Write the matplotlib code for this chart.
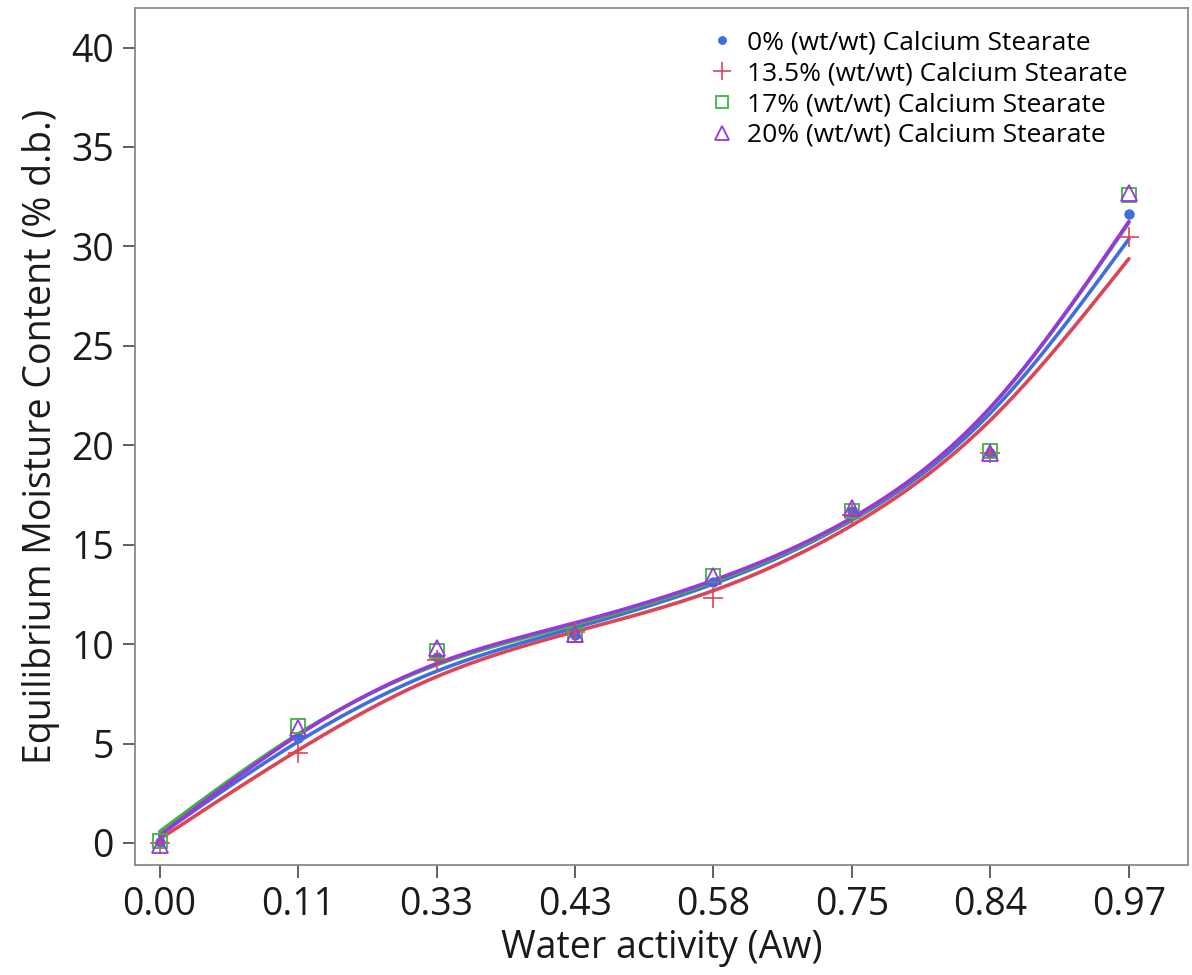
import matplotlib
matplotlib.use("Agg")
import matplotlib.pyplot as plt
from matplotlib.lines import Line2D
import numpy as np

plt.rcParams["font.family"] = ["Open Sans", "DejaVu Sans"]

# Water activity levels (plotted as equally spaced categories)
aw_labels = ["0.00", "0.11", "0.33", "0.43", "0.58", "0.75", "0.84", "0.97"]

# Equilibrium moisture content (% d.b.) per calcium stearate level
emc_0 = [0.05, 5.3, 9.35, 10.45, 13.1, 16.7, 19.6, 31.65]
emc_135 = [0.0, 4.5, 9.2, 10.6, 12.3, 16.5, 19.6, 30.45]
emc_17 = [0.1, 5.9, 9.65, 10.45, 13.4, 16.7, 19.7, 32.6]
emc_20 = [-0.1, 5.8, 9.8, 10.5, 13.45, 16.85, 19.6, 32.7]

series_labels = [
    "0% (wt/wt) Calcium Stearate",
    "13.5% (wt/wt) Calcium Stearate",
    "17% (wt/wt) Calcium Stearate",
    "20% (wt/wt) Calcium Stearate",
]

blue = "#3E6FDD"
red = "#DC4654"
green = "#3DB53D"
purple = "#9A35E0"

styles = [
    dict(marker="o", color=blue, ms=7.5, mfc=blue, mew=0),
    dict(marker="+", color=red, ms=15, mfc="none", mew=1.2),
    dict(marker="s", color=green, ms=10, mfc="none", mew=1.3),
    dict(marker="^", color=purple, ms=12, mfc="none", mew=1.3),
]


def smoothing_spline(y, lam, xs):
    """Cubic smoothing spline on unit-spaced knots (Reinsch form)."""
    y = np.asarray(y, dtype=float)
    n = len(y)
    Q = np.zeros((n, n - 2))
    R = np.zeros((n - 2, n - 2))
    for j in range(n - 2):
        Q[j, j] = 1.0
        Q[j + 1, j] = -2.0
        Q[j + 2, j] = 1.0
        R[j, j] = 2.0 / 3.0
        if j + 1 < n - 2:
            R[j, j + 1] = R[j + 1, j] = 1.0 / 6.0
    K = Q @ np.linalg.solve(R, Q.T)
    g = np.linalg.solve(np.eye(n) + lam * K, y)
    gam = np.concatenate([[0.0], np.linalg.solve(R, Q.T @ g), [0.0]])
    i = np.clip(np.floor(xs).astype(int), 0, n - 2)
    t = xs - i
    u = 1.0 - t
    return (u * g[i] + t * g[i + 1]
            - t * u / 6.0 * ((1 + t) * gam[i + 1] + (1 + u) * gam[i]))


fig = plt.figure(figsize=(11.92, 9.75), dpi=100)
ax = fig.add_axes([0.113, 0.113, 0.884, 0.879])

x = np.arange(len(aw_labels))
xs = np.linspace(0, len(aw_labels) - 1, 400)
all_series = [emc_0, emc_135, emc_17, emc_20]

# smoother for each series, drawn in the order red, blue, green, purple
for idx in [1, 0, 2, 3]:
    ax.plot(xs, smoothing_spline(all_series[idx], 0.28, xs),
            color=styles[idx]["color"], lw=2.6, solid_capstyle="round",
            zorder=2)

for vals, st in zip(all_series, styles):
    ax.plot(x, vals, linestyle="none", marker=st["marker"], color=st["color"],
            markersize=st["ms"], markerfacecolor=st["mfc"],
            markeredgecolor=st["color"], markeredgewidth=st["mew"], zorder=3)

ax.set_xlim(-0.18, 7.43)
ax.set_ylim(-1.1, 42.0)
ax.set_xticks(x)
ax.set_xticklabels(aw_labels)
ax.set_yticks(np.arange(0, 41, 5))

for sp in ax.spines.values():
    sp.set_color("#8a8a8a")
    sp.set_linewidth(1.3)
ax.tick_params(axis="both", direction="out", length=9, width=1.3,
               color="#555555", labelsize=27, pad=6, labelcolor="#1a1a1a")

ax.set_xlabel("Water activity (Aw)", fontsize=27, color="#1a1a1a", labelpad=4)
ax.set_ylabel("Equilibrium Moisture Content (% d.b.)", fontsize=27,
              color="#1a1a1a", labelpad=8)

handles = [
    Line2D([], [], linestyle="none", marker=st["marker"], color=st["color"],
           markersize=st["ms"] * 0.85, markerfacecolor=st["mfc"],
           markeredgecolor=st["color"], markeredgewidth=st["mew"])
    for st in styles
]
ax.legend(handles, series_labels, loc="upper right", frameon=False,
          fontsize=19, handlelength=1.0, handletextpad=0.45, labelspacing=0.22,
          borderaxespad=0.2, bbox_to_anchor=(0.957, 0.992))

fig.savefig("out.png", dpi=100)
